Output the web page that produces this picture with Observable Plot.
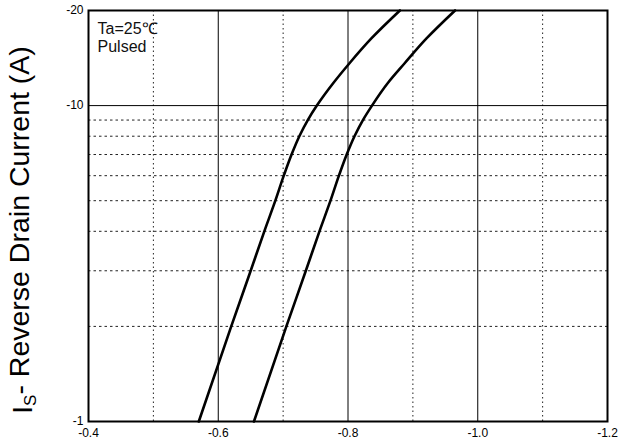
<!DOCTYPE html>
<html>
<head>
<meta charset="utf-8">
<script src="https://cdn.jsdelivr.net/npm/d3@7"></script>
<script src="https://cdn.jsdelivr.net/npm/@observablehq/plot@0.6"></script>
<style>
  html, body { margin: 0; padding: 0; background: #fff; }
  #chart { width: 634px; height: 445px; }
  #chart g[aria-label="x-axis tick label"], #chart g[aria-label="y-axis tick label"] { font-size: 12px; }
</style>
</head>
<body>
<div id="chart"></div>
<script>
// Curve 1 (left): reverse drain current magnitude (A) vs source-drain voltage (V)
const curve1Current = [1, 2, 3, 4, 5, 6, 7, 8, 9, 10, 11.83, 13.59, 16.31, 20];
const curve1Voltage = [-0.570, -0.620, -0.650, -0.671, -0.688, -0.701, -0.713, -0.725, -0.738, -0.752, -0.778, -0.802, -0.836, -0.880];
// Curve 2 (right)
const curve2Current = [1, 2, 3, 4, 5, 6, 7, 8, 9, 10, 11.83, 13.59, 16.31, 20];
const curve2Voltage = [-0.655, -0.705, -0.735, -0.756, -0.773, -0.786, -0.798, -0.810, -0.823, -0.837, -0.862, -0.887, -0.921, -0.965];

const xTicks = [-0.4, -0.6, -0.8, -1.0, -1.2];
const xMajorGrid = [-0.6, -0.8, -1.0];
const xMinorGrid = [-0.5, -0.7, -0.9, -1.1];
const yTicks = [1, 10, 20];
const yTickLabels = ["-1", "-10", "-20"];
const yMajorGrid = [10];
const yMinorGrid = [2, 3, 4, 5, 6, 7, 8, 9];
const annotation = "Ta=25\u2103\nPulsed";

const data = [
  ...curve1Current.map((c, i) => ({series: "c1", i: c, v: curve1Voltage[i]})),
  ...curve2Current.map((c, i) => ({series: "c2", i: c, v: curve2Voltage[i]}))
];

const chart = Plot.plot({
  width: 634,
  height: 445,
  marginLeft: 88,
  marginRight: 27,
  marginTop: 10,
  marginBottom: 24,
  style: {fontFamily: "'Liberation Sans', Arial, sans-serif", fontSize: "12px", background: "white", color: "black", overflow: "visible"},
  x: {domain: [-0.4, -1.2], label: null},
  y: {type: "log", domain: [1, 20], label: null},
  marks: [
    Plot.ruleX(xMinorGrid, {stroke: "#222", strokeWidth: 1, strokeDasharray: "1.5,3"}),
    Plot.ruleY(yMinorGrid, {stroke: "#222", strokeWidth: 1, strokeDasharray: "2.5,3"}),
    Plot.ruleX(xMajorGrid, {stroke: "#000", strokeWidth: 1}),
    Plot.ruleY(yMajorGrid, {stroke: "#000", strokeWidth: 1}),
    Plot.line(data, {x: "v", y: "i", z: "series", stroke: "#000", strokeWidth: 2.6, curve: "monotone-y"}),
    Plot.frame({stroke: "#000", strokeWidth: 2}),
    Plot.axisX({ticks: xTicks, tickFormat: d => d.toFixed(1), tickSize: 0, tickPadding: 7, fontSize: 12, label: null}),
    Plot.axisY({ticks: yTicks, tickFormat: d => yTickLabels[yTicks.indexOf(d)], tickSize: 0, tickPadding: 5, fontSize: 12, label: null}),
    Plot.text([annotation], {frameAnchor: "top-left", dx: 9, dy: 10, lineAnchor: "top", fontSize: 16, lineHeight: 1.15, textAnchor: "start", fill: "#111"})
  ]
});

document.getElementById("chart").appendChild(chart);

const svg = d3.select(chart.tagName.toLowerCase() === "svg" ? chart : chart.querySelector("svg"));
// ensure tick label size
svg.selectAll('g[aria-label="x-axis tick label"], g[aria-label="y-axis tick label"]').attr("font-size", 12).style("font-size", "12px");

// Y-axis title with subscript
const title = svg.append("text")
  .attr("transform", "translate(32,230) rotate(-90)")
  .attr("text-anchor", "middle")
  .style("font-family", "'Liberation Sans', Arial, sans-serif")
  .style("font-size", "28.5px")
  .attr("fill", "#000");
title.append("tspan").text("I");
title.append("tspan").attr("dy", "0.25em").style("font-size", "17px").text("S");
title.append("tspan").attr("dy", "-0.25em").text("- Reverse Drain Current (A)");
</script>
</body>
</html>
